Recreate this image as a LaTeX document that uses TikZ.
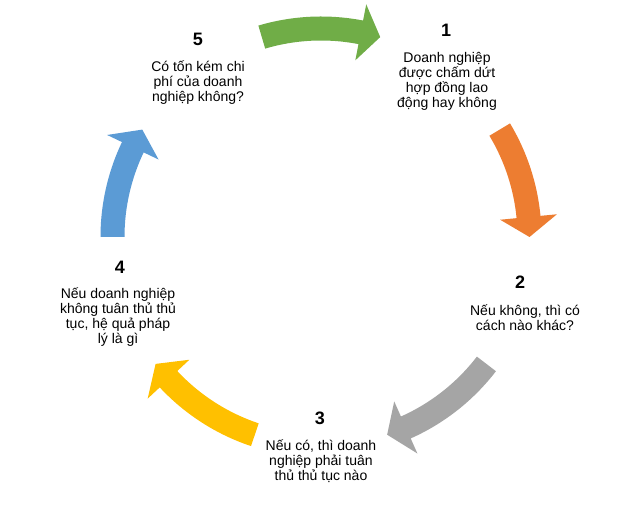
\documentclass[tikz,border=0pt]{standalone}
\usepackage{fontspec}
\setmainfont{Liberation Sans}
\definecolor{cgreen}{HTML}{70AD47}
\definecolor{corange}{HTML}{ED7D31}
\definecolor{cgray}{HTML}{A5A5A5}
\definecolor{cyellow}{HTML}{FFC000}
\definecolor{cblue}{HTML}{5B9BD5}
% #1 colour, #2 centre angle, #3 half span
\newcommand\cyclearrow[3]{%
  \fill[#1,shift={(321,273)}] ({#2+#3}:196.5pt)
    arc[start angle={#2+#3}, end angle={#2-#3+5.5}, radius=196.5pt]
    -- ({#2-#3+5.5}:180pt) -- ({#2-#3}:208.5pt) -- ({#2-#3+5.5}:237pt)
    -- ({#2-#3+5.5}:220.5pt)
    arc[start angle={#2-#3+5.5}, end angle={#2+#3}, radius=220.5pt] -- cycle;}
\begin{document}
\begin{tikzpicture}[x=1pt,y=1pt,
  numstyle/.style={font=\fontsize{18}{20}\selectfont\bfseries, inner sep=0pt},
  txtstyle/.style={font=\fontsize{14}{15}\selectfont, align=center, inner sep=0pt}]
\useasboundingbox (0,0) rectangle (642,510);
\fill[white] (0,0) rectangle (642,510);
\cyclearrow{cgreen}{90}{16.5}
\cyclearrow{corange}{15.5}{15.5}
\cyclearrow{cgray}{-54.5}{17}
\cyclearrow{cyellow}{-125.5}{17}
\cyclearrow{cblue}{164.5}{15.5}
\node[numstyle] (n1) at (446,480) {1};
\node[txtstyle] (t1) at (447,428.5) {Doanh nghiệp\\được chấm dứt\\hợp đồng lao\\động hay không};
\node[numstyle] (n2) at (520,228) {2};
\node[txtstyle] (t2) at (525,192.5) {Nếu không, thì có\\cách nào khác?};
\node[numstyle] (n3) at (320,92) {3};
\node[txtstyle] (t3) at (321,49) {Nếu có, thì doanh\\nghiệp phải tuân\\thủ thủ tục nào};
\node[numstyle] (n4) at (120,243) {4};
\node[txtstyle] (t4) at (118,192.5) {Nếu doanh nghiệp\\không tuân thủ thủ\\tục, hệ quả pháp\\lý là gì};
\node[numstyle] (n5) at (198,471) {5};
\node[txtstyle] (t5) at (198,427) {Có tốn kém chi\\phí của doanh\\nghiệp không?};
\end{tikzpicture}
\end{document}
